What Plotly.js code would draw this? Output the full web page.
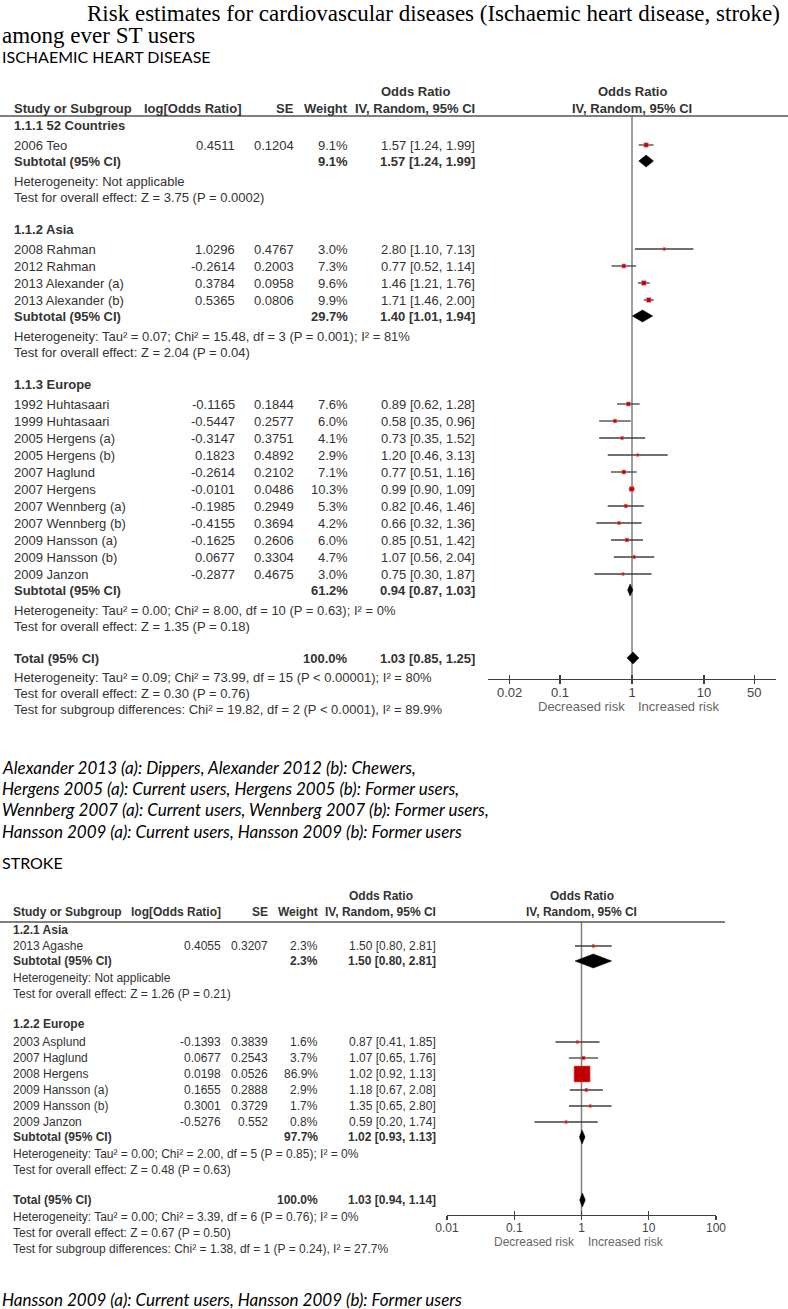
<!DOCTYPE html>
<html>
<head>
<meta charset="utf-8">
<script src="https://cdn.plot.ly/plotly-3.0.1.min.js"></script>
<style>
  html, body { margin: 0; padding: 0; background: #fff; }
  #chart { width: 788px; height: 1309px; }
</style>
</head>
<body>
<div id="chart"></div>
<script>
const W = 788
const H = 1309

// ---- Ischaemic heart disease ----
const ihdGroups = ['1.1.1 52 Countries', '1.1.2 Asia', '1.1.3 Europe']
const ihdStudies = ['2006 Teo', '2008 Rahman', '2012 Rahman', '2013 Alexander (a)', '2013 Alexander (b)',
  '1992 Huhtasaari', '1999 Huhtasaari', '2005 Hergens (a)', '2005 Hergens (b)', '2007 Haglund', '2007 Hergens',
  '2007 Wennberg (a)', '2007 Wennberg (b)', '2009 Hansson (a)', '2009 Hansson (b)', '2009 Janzon']
const ihdGroupOf = [0, 1, 1, 1, 1, 2, 2, 2, 2, 2, 2, 2, 2, 2, 2, 2]
const ihdLogOR = [0.4511, 1.0296, -0.2614, 0.3784, 0.5365, -0.1165, -0.5447, -0.3147, 0.1823, -0.2614, -0.0101, -0.1985, -0.4155, -0.1625, 0.0677, -0.2877]
const ihdSE = [0.1204, 0.4767, 0.2003, 0.0958, 0.0806, 0.1844, 0.2577, 0.3751, 0.4892, 0.2102, 0.0486, 0.2949, 0.3694, 0.2606, 0.3304, 0.4675]
const ihdWeight = [9.1, 3.0, 7.3, 9.6, 9.9, 7.6, 6.0, 4.1, 2.9, 7.1, 10.3, 5.3, 4.2, 6.0, 4.7, 3.0]
const ihdOR = [1.57, 2.80, 0.77, 1.46, 1.71, 0.89, 0.58, 0.73, 1.20, 0.77, 0.99, 0.82, 0.66, 0.85, 1.07, 0.75]
const ihdLo = [1.24, 1.10, 0.52, 1.21, 1.46, 0.62, 0.35, 0.35, 0.46, 0.51, 0.90, 0.46, 0.32, 0.51, 0.56, 0.30]
const ihdHi = [1.99, 7.13, 1.14, 1.76, 2.00, 1.28, 0.96, 1.52, 3.13, 1.16, 1.09, 1.46, 1.36, 1.42, 2.04, 1.87]
const ihdSubWeight = [9.1, 29.7, 61.2]
const ihdSubOR = [1.57, 1.40, 0.94]
const ihdSubLo = [1.24, 1.01, 0.87]
const ihdSubHi = [1.99, 1.94, 1.03]
const ihdHet = ['Heterogeneity: Not applicable',
  'Heterogeneity: Tau² = 0.07; Chi² = 15.48, df = 3 (P = 0.001); I² = 81%',
  'Heterogeneity: Tau² = 0.00; Chi² = 8.00, df = 10 (P = 0.63); I² = 0%']
const ihdZ = ['Test for overall effect: Z = 3.75 (P = 0.0002)',
  'Test for overall effect: Z = 2.04 (P = 0.04)',
  'Test for overall effect: Z = 1.35 (P = 0.18)']
const ihdTotal = [1.03, 0.85, 1.25]
const ihdTotalNotes = ['Heterogeneity: Tau² = 0.09; Chi² = 73.99, df = 15 (P < 0.00001); I² = 80%',
  'Test for overall effect: Z = 0.30 (P = 0.76)',
  'Test for subgroup differences: Chi² = 19.82, df = 2 (P < 0.0001), I² = 89.9%']
const ihdTickVals = [0.02, 0.1, 1, 10, 50]
const ihdTickText = ['0.02', '0.1', '1', '10', '50']

// ---- Stroke ----
const strGroups = ['1.2.1 Asia', '1.2.2 Europe']
const strStudies = ['2013 Agashe', '2003 Asplund', '2007 Haglund', '2008 Hergens', '2009 Hansson (a)', '2009 Hansson (b)', '2009 Janzon']
const strGroupOf = [0, 1, 1, 1, 1, 1, 1]
const strLogOR = [0.4055, -0.1393, 0.0677, 0.0198, 0.1655, 0.3001, -0.5276]
const strSE = [0.3207, 0.3839, 0.2543, 0.0526, 0.2888, 0.3729, 0.552]
const strWeight = [2.3, 1.6, 3.7, 86.9, 2.9, 1.7, 0.8]
const strOR = [1.50, 0.87, 1.07, 1.02, 1.18, 1.35, 0.59]
const strLo = [0.80, 0.41, 0.65, 0.92, 0.67, 0.65, 0.20]
const strHi = [2.81, 1.85, 1.76, 1.13, 2.08, 2.80, 1.74]
const strSubWeight = [2.3, 97.7]
const strSubOR = [1.50, 1.02]
const strSubLo = [0.80, 0.93]
const strSubHi = [2.81, 1.13]
const strHet = ['Heterogeneity: Not applicable',
  'Heterogeneity: Tau² = 0.00; Chi² = 2.00, df = 5 (P = 0.85); I² = 0%']
const strZ = ['Test for overall effect: Z = 1.26 (P = 0.21)',
  'Test for overall effect: Z = 0.48 (P = 0.63)']
const strTotal = [1.03, 0.94, 1.14]
const strTotalNotes = ['Heterogeneity: Tau² = 0.00; Chi² = 3.39, df = 6 (P = 0.76); I² = 0%',
  'Test for overall effect: Z = 0.67 (P = 0.50)',
  'Test for subgroup differences: Chi² = 1.38, df = 1 (P = 0.24), I² = 27.7%']
const strTickVals = [0.01, 0.1, 1, 10, 100]
const strTickText = ['0.01', '0.1', '1', '10', '100']

const ihdFootnotes = ['Alexander 2013 (a): Dippers, Alexander 2012 (b): Chewers,',
  'Hergens 2005 (a): Current users, Hergens 2005 (b): Former users,',
  'Wennberg 2007 (a): Current users, Wennberg 2007 (b): Former users,',
  'Hansson 2009 (a): Current users, Hansson 2009 (b): Former users']
const strFootnotes = ['Hansson 2009 (a): Current users, Hansson 2009 (b): Former users']

const SANS = 'Liberation Sans, Arial, sans-serif'
const TEXT = '#333333'

const annotations = []
const shapes = []
const traces = [{ x: [], y: [], xaxis: 'x', yaxis: 'y', showlegend: false }]
const axes = {}

function note(x, y, text, opts = {}) {
  annotations.push({
    xref: 'x', yref: 'y', x: x, y: y, text: text, showarrow: false,
    xanchor: opts.anchor || 'left', yanchor: 'middle', borderpad: 0,
    font: { family: opts.family || SANS, size: opts.size || 13, color: opts.color || TEXT }
  })
}

const fmtOR = (o, l, h) => `${o.toFixed(2)} [${l.toFixed(2)}, ${h.toFixed(2)}]`

function buildForest(d, g) {
  const fs = g.font
  const t = (x, y, s, anchor, bold) => note(x, y, bold ? '<b>' + s + '</b>' : s, { anchor: anchor, size: fs })

  // column headings
  t(g.orHeadCenter, g.head1, 'Odds Ratio', 'center', true)
  t(g.label, g.head2, 'Study or Subgroup', 'left', true)
  t(g.logHead, g.head2, 'log[Odds Ratio]', 'right', true)
  t(g.se, g.head2, 'SE', 'right', true)
  t(g.wt, g.head2, 'Weight', 'right', true)
  t(g.or, g.head2, 'IV, Random, 95% CI', 'right', true)
  t(g.fc, g.head1, 'Odds Ratio', 'center', true)
  t(g.fc, g.head2, 'IV, Random, 95% CI', 'center', true)
  shapes.push({ type: 'line', xref: 'x', yref: 'y', x0: 0, x1: g.lineEnd, y0: g.lineY, y1: g.lineY,
    line: { color: '#555', width: 1.3 } })

  // rows
  const studyY = []
  const diamonds = []
  let y = g.start
  d.groups.forEach((grp, gi) => {
    t(g.label, y, grp, 'left', true)
    y += gi === 0 ? g.h2sFirst : g.h2s
    d.studies.forEach((s, i) => {
      if (d.groupOf[i] !== gi) return
      studyY[i] = y
      t(g.label, y, s, 'left')
      t(g.log, y, String(d.logOR[i]), 'right')
      t(g.se, y, String(d.se[i]), 'right')
      t(g.wt, y, d.weight[i].toFixed(1) + '%', 'right')
      t(g.or, y, fmtOR(d.or[i], d.lo[i], d.hi[i]), 'right')
      y += g.rowH
    })
    y += g.sub - g.rowH
    t(g.label, y, 'Subtotal (95% CI)', 'left', true)
    t(g.wt, y, d.subWeight[gi].toFixed(1) + '%', 'right', true)
    t(g.or, y, fmtOR(d.subOR[gi], d.subLo[gi], d.subHi[gi]), 'right', true)
    diamonds.push([d.subOR[gi], d.subLo[gi], d.subHi[gi], y])
    y += g.s2h
    t(g.label, y, d.het[gi], 'left')
    y += g.h2t
    t(g.label, y, d.z[gi], 'left')
    y += g.t2n
  })
  y += g.tot - g.t2n
  t(g.label, y, 'Total (95% CI)', 'left', true)
  t(g.wt, y, '100.0%', 'right', true)
  t(g.or, y, fmtOR(d.total[0], d.total[1], d.total[2]), 'right', true)
  diamonds.push([d.total[0], d.total[1], d.total[2], y])
  y += g.tot2
  d.totalNotes.forEach((s, i) => {
    t(g.label, y, s, 'left')
    y += g.h2t
  })

  // risk captions
  note(g.fc - 6, g.axisY + g.riskOff, 'Decreased risk', { anchor: 'right', size: fs, color: '#666' })
  note(g.fc + 5, g.axisY + g.riskOff, 'Increased risk', { anchor: 'left', size: fs, color: '#666' })

  // reference line at OR = 1
  traces.push({
    x: [1, 1], y: [g.lineY, g.axisY], xaxis: g.xa, yaxis: 'y', mode: 'lines',
    line: { color: '#7f7f7f', width: 1.5 }, showlegend: false, hoverinfo: 'skip'
  })
  // confidence intervals
  const cx = [], cy = []
  d.studies.forEach((s, i) => {
    cx.push(d.lo[i], d.hi[i], null)
    cy.push(studyY[i], studyY[i], null)
  })
  traces.push({
    x: cx, y: cy, xaxis: g.xa, yaxis: 'y', mode: 'lines',
    line: { color: '#404040', width: 1.3 }, showlegend: false, hoverinfo: 'skip'
  })
  // study squares (overlay axis, drawn above the lines)
  traces.push({
    x: d.or, y: studyY, xaxis: g.xo, yaxis: 'y', mode: 'markers',
    marker: { symbol: 'square', color: '#c00000', opacity: 1,
      size: d.weight.map(w => Math.max(2.5, g.sqK * Math.sqrt(w))),
      line: { color: '#e06060', width: 0.6 } },
    showlegend: false, hoverinfo: 'skip'
  })
  // pooled diamonds
  diamonds.forEach(([est, lo, hi, yy]) => {
    traces.push({
      x: [lo, est, hi, est, lo], y: [yy, yy - g.dh, yy, yy + g.dh, yy],
      xaxis: g.xo, yaxis: 'y', mode: 'lines', fill: 'toself', fillcolor: '#000',
      line: { color: '#000', width: 0.5 }, showlegend: false, hoverinfo: 'skip'
    })
  })

  const pos = 1 - g.axisY / H
  const base = {
    type: 'log', range: [-2, 2], domain: [g.ax0 / W, g.ax1 / W], anchor: 'free', position: pos,
    showgrid: false, zeroline: false, tickvals: d.tickVals, ticktext: d.tickText, ticklen: 4,
    tickwidth: 1.2, tickcolor: '#404040', fixedrange: true
  }
  axes[g.xaKey] = Object.assign({}, base, {
    ticks: 'outside', showline: true, linecolor: '#404040', linewidth: 1.3, ticklabelstandoff: -3,
    tickfont: { family: SANS, size: fs, color: '#444' }
  })
  axes[g.xoKey] = Object.assign({}, base, {
    overlaying: g.xa, ticks: 'inside', showline: false, showticklabels: false
  })
}

buildForest({
  groups: ihdGroups, studies: ihdStudies, groupOf: ihdGroupOf, logOR: ihdLogOR, se: ihdSE, weight: ihdWeight,
  or: ihdOR, lo: ihdLo, hi: ihdHi, subWeight: ihdSubWeight, subOR: ihdSubOR, subLo: ihdSubLo, subHi: ihdSubHi,
  het: ihdHet, z: ihdZ, total: ihdTotal, totalNotes: ihdTotalNotes, tickVals: ihdTickVals, tickText: ihdTickText
}, {
  font: 13, label: 13, logHead: 243, log: 236, se: 295, wt: 349, or: 476, orHeadCenter: 415, fc: 632,
  head1: 91, head2: 108, lineY: 116, lineEnd: 788,
  start: 125, h2sFirst: 20, h2s: 20, rowH: 17, sub: 16, s2h: 20, h2t: 16, t2n: 32, tot: 32, tot2: 19,
  axisY: 679, riskOff: 27, ax0: 488, ax1: 776, sqK: 1.4, dh: 6,
  xa: 'x2', xo: 'x4', xaKey: 'xaxis2', xoKey: 'xaxis4'
})

buildForest({
  groups: strGroups, studies: strStudies, groupOf: strGroupOf, logOR: strLogOR, se: strSE, weight: strWeight,
  or: strOR, lo: strLo, hi: strHi, subWeight: strSubWeight, subOR: strSubOR, subLo: strSubLo, subHi: strSubHi,
  het: strHet, z: strZ, total: strTotal, totalNotes: strTotalNotes, tickVals: strTickVals, tickText: strTickText
}, {
  font: 12, label: 12, logHead: 222, log: 222, se: 269, wt: 319, or: 437, orHeadCenter: 381, fc: 581.5,
  head1: 896, head2: 912, lineY: 922, lineEnd: 725,
  start: 930, h2sFirst: 16, h2s: 18, rowH: 16, sub: 15, s2h: 17, h2t: 16, t2n: 30, tot: 30, tot2: 17,
  axisY: 1215, riskOff: 27, ax0: 447, ax1: 716, sqK: 1.72, dh: 7,
  xa: 'x3', xo: 'x5', xaKey: 'xaxis3', xoKey: 'xaxis5'
})

// titles and notes
const SERIF = 'Liberation Serif, Times New Roman, serif'
const CAL = 'Lato, Open Sans, sans-serif'
note(86, 13, 'Risk estimates for cardiovascular diseases (Ischaemic heart disease, stroke)', { family: SERIF, size: 23, color: '#000' })
note(1, 35, 'among ever ST users', { family: SERIF, size: 23, color: '#000' })
note(1, 56, 'ISCHAEMIC HEART DISEASE', { family: CAL, size: 16, color: '#000' })
ihdFootnotes.forEach((s, i) => note(1, 767 + i * 21.4, '<i>' + s + '</i>', { family: CAL, size: 17, color: '#000' }))
note(1, 862, 'STROKE', { family: CAL, size: 16, color: '#000' })
strFootnotes.forEach((s, i) => note(1, 1299 + i * 21.4, '<i>' + s + '</i>', { family: CAL, size: 17, color: '#000' }))

const layout = Object.assign({
  width: W, height: H, autosize: false,
  margin: { l: 0, r: 0, t: 0, b: 0, pad: 0 },
  paper_bgcolor: '#fff', plot_bgcolor: 'rgba(0,0,0,0)',
  showlegend: false, hovermode: false,
  xaxis: { range: [0, W], domain: [0, 1], visible: false, fixedrange: true },
  yaxis: { range: [H, 0], domain: [0, 1], visible: false, fixedrange: true },
  annotations: annotations,
  shapes: shapes
}, axes)

Plotly.newPlot('chart', traces, layout, { staticPlot: true, displayModeBar: false })
</script>
</body>
</html>
